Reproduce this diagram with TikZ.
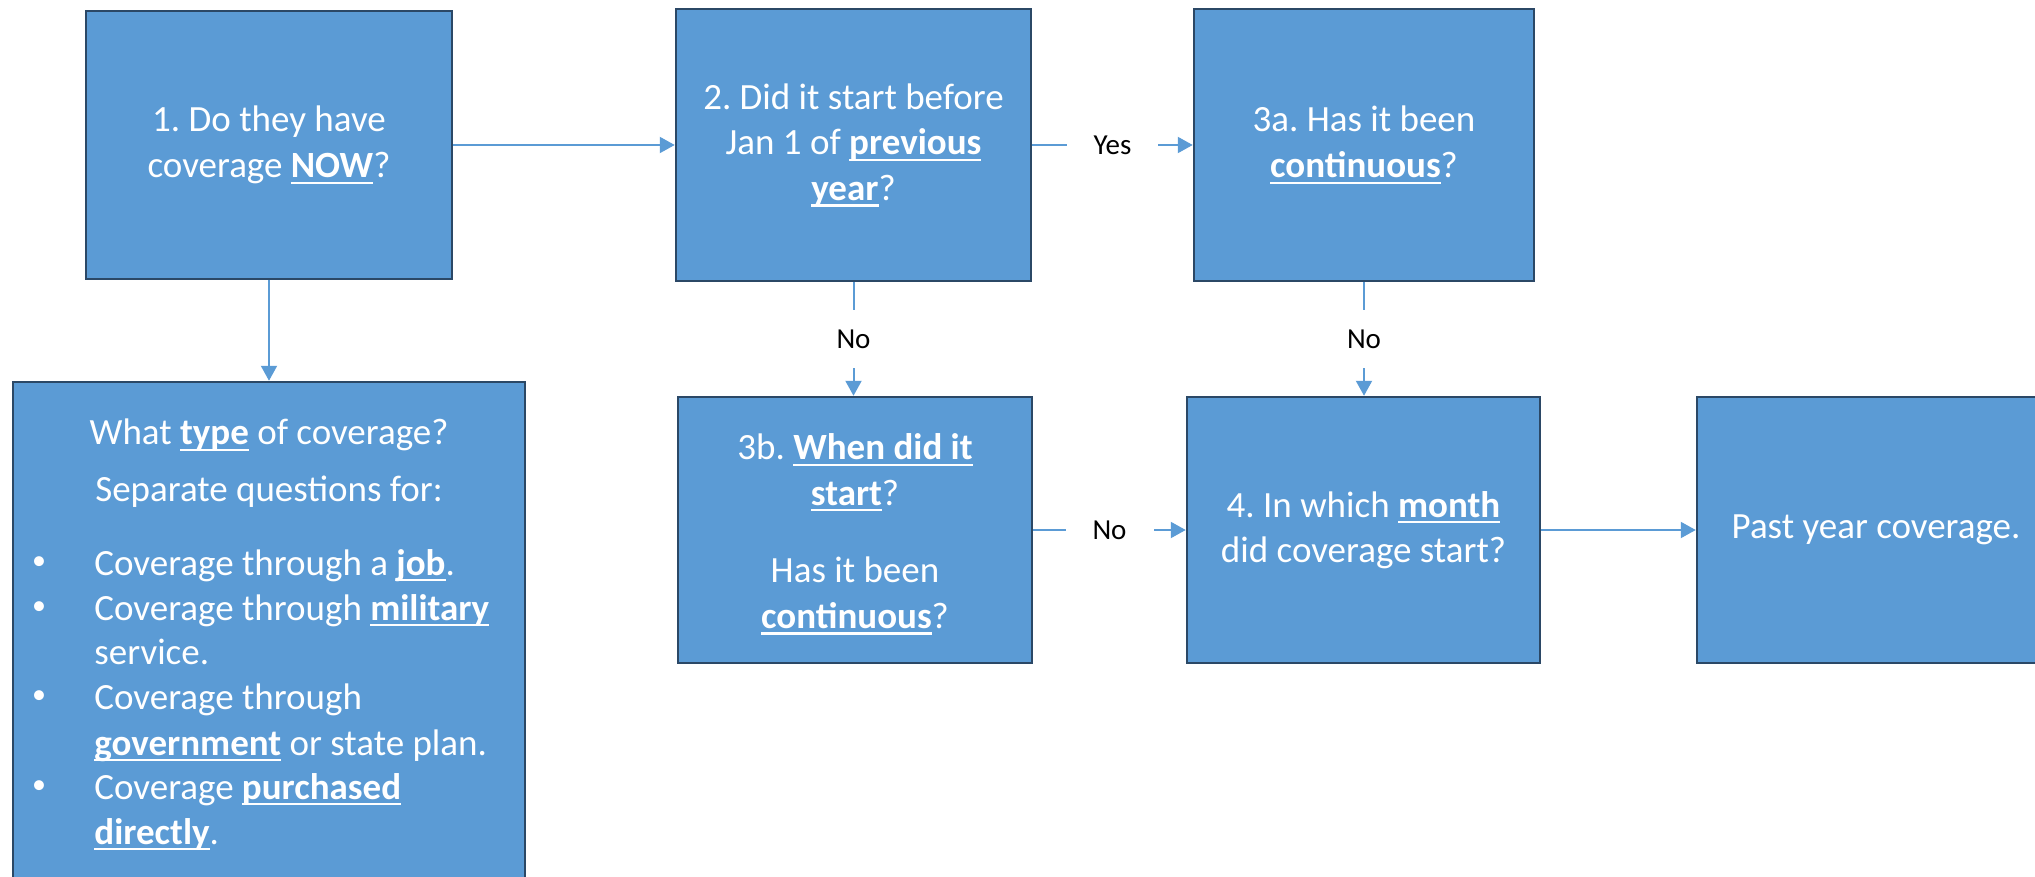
\documentclass[tikz,border=0pt]{standalone}
\usepackage{fontspec}
\setmainfont{Carlito}
\usepackage{tikz}
\usetikzlibrary{arrows.meta}
\usetikzlibrary{fit}

\definecolor{boxblue}{HTML}{5B9BD5}
\definecolor{boxline}{HTML}{2B4866}
\newsavebox{\kwbox}
\newcommand{\kw}[1]{\leavevmode\sbox{\kwbox}{\bfseries #1}\rlap{\rule[-0.17em]{\wd\kwbox}{0.06em}}\usebox{\kwbox}}
\newcommand{\qfont}{\frenchspacing\fontsize{18.5pt}{22.8pt}\selectfont}
\newcommand{\lfont}{\fontsize{14.5pt}{17pt}\selectfont}

\begin{document}
\begin{tikzpicture}[x=0.5pt,y=-0.5pt,
		qbox/.style={draw=boxline, fill=boxblue, line width=1.25pt, inner sep=0pt},
		qtext/.style={text=white, align=center, font=\qfont},
		arr/.style={draw=boxblue, line width=1pt, -{Triangle[length=7.5pt,width=8pt]}},
		lbl/.style={fill=white, font=\lfont, inner xsep=13.5pt, inner ysep=10pt}]
		\useasboundingbox (0,0) rectangle (2035,877);

		% question boxes
		\node[qbox, fit={(86,11)(452,279)}, label={[qtext]center:{1. Do they have\\coverage \kw{NOW}?}}](q1){};
		\node[qbox, fit={(676,9)(1031,281)}, label={[qtext]center:{2. Did it start before\\Jan 1 of \kw{previous}\\\kw{year}?}}](q2){};
		\node[qbox, fit={(1194,9)(1534,281)}, label={[qtext]center:{3a. Has it been\\\kw{continuous}?}}](q3a){};
		\node[qbox, fit={(678,397)(1032,663)}, label={[qtext, yshift=-2pt]center:{3b. \kw{When did it}\\\kw{start}?\\[16pt]Has it been\\\kw{continuous}?}}](q3b){};
		\node[qbox, fit={(1187,397)(1540,663)}, label={[qtext]center:{4. In which \kw{month}\\did coverage start?}}](q4){};
		\node[qbox, fit={(1697,397)(2055,663)}, label={[qtext]center:{Past year coverage.}}](qpast){};
		\node[qbox, fit={(13,382)(525,910)}](qtype){};

		% text of the type box
		\node[qtext] (typehead) at (269,435) {What \kw{type} of coverage?};
		\node[qtext] (typesub) at (269,492) {Separate questions for:};
		\foreach \y/\bul/\txt [count=\i] in {
				563/1/Coverage through a \kw{job}.,
				608/1/Coverage through \kw{military},
				652/0/service.,
				697/1/Coverage through,
				743/0/\kw{government} or state plan.,
				787/1/Coverage \kw{purchased},
				832/0/\kw{directly}.
		}{
		\node[qtext, anchor=base west, inner sep=0pt] (line\i) at (94,\y+12) {\txt};
		\ifnum\bul=1 \node[text=white, font=\fontsize{14pt}{16pt}\selectfont, inner sep=0pt] (dot\i) at (39,\y) {\textbullet}; \fi
		}

		% connectors
		\draw[arr] (q1.east) -- (q2.west);
		\draw[arr] (q1.south) -- (q1.south |- qtype.north);
		\draw[arr] (q2.east) -- node[lbl](yes){Yes} (q3a.west);
		\draw[arr] (q2.south) -- node[lbl](no1){No} (q2.south |- q3b.north);
		\draw[arr] (q3a.south) -- node[lbl](no2){No} (q3a.south |- q4.north);
		\draw[arr] (q3b.east) -- node[lbl](no3){No} (q4.west);
		\draw[arr] (q4.east) -- (qpast.west);
\end{tikzpicture}
\end{document}
